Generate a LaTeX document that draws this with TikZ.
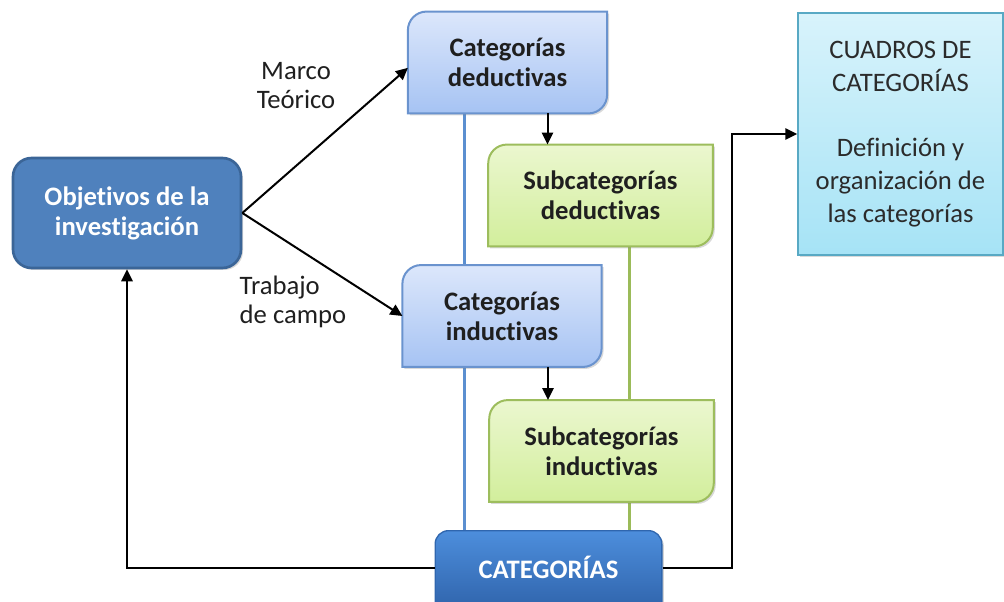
\documentclass[tikz,border=0pt]{standalone}
\usepackage{fontspec}
\setmainfont{Carlito}[RawFeature={-liga;-clig;-dlig;-calt}]
\usetikzlibrary{positioning}
\usetikzlibrary{arrows.meta}
\usetikzlibrary{shadows}
\usetikzlibrary{backgrounds}
\definecolor{objfill}{HTML}{4F81BD}
\definecolor{objdraw}{HTML}{3B6597}
\definecolor{cattop}{HTML}{DCE7FB}
\definecolor{catbot}{HTML}{A6C3F3}
\definecolor{catdraw}{HTML}{6A93CE}
\definecolor{subtop}{HTML}{EBF7CF}
\definecolor{subbot}{HTML}{D2EE9C}
\definecolor{subdraw}{HTML}{9DBD5D}
\definecolor{cuatop}{HTML}{D8F3FB}
\definecolor{cuabot}{HTML}{A6E3F6}
\definecolor{cuadraw}{HTML}{58A9C4}
\definecolor{centtop}{HTML}{4D8EDC}
\definecolor{centbot}{HTML}{2C5FA6}
\definecolor{centdraw}{HTML}{2F66AE}
\definecolor{lineb}{HTML}{5B8FD0}
\definecolor{lineg}{HTML}{9BBB59}
\definecolor{txtdark}{HTML}{1F1F1F}
\definecolor{txtgray}{HTML}{2B2B2B}
\tikzset{
    nodeobj/.style = {rounded corners=14pt, line width=2pt, draw=objdraw, fill=objfill, align=center, font=\bfseries\fontsize{20}{22.5}\selectfont, text=white, minimum width=171pt, minimum height=82.5pt, drop shadow={opacity=0.3,shadow xshift=1.5pt,shadow yshift=-1.5pt}},
    nodecat/.style = {align=center, font=\bfseries\fontsize{20}{22.5}\selectfont, text=txtdark, minimum width=149pt, minimum height=76pt},
    nodesub/.style = {align=center, font=\bfseries\fontsize{20}{22.5}\selectfont, text=txtdark, minimum width=168pt, minimum height=76pt},
    nodecent/.style = {rounded corners=10pt, line width=1pt, draw=centdraw, top color=centtop, bottom color=centbot, align=center, font=\bfseries\fontsize{20}{22.5}\selectfont, text=white, minimum width=170pt, inner ysep=0pt, text height=36pt, text depth=30pt, drop shadow={opacity=0.35,shadow xshift=1.5pt,shadow yshift=-1.5pt}},
    nodecua/.style = {line width=1pt, draw=cuadraw, top color=cuatop, bottom color=cuabot, align=center, font=\fontsize{20}{24.75}\selectfont, text=txtgray, minimum width=153.75pt, minimum height=181.5pt, drop shadow={opacity=0.3,shadow xshift=1.5pt,shadow yshift=-1.5pt}},
    lbl/.style = {align=center, font=\fontsize{20}{21.75}\selectfont, text=txtdark},
    shapecat/.style = {line width=1.5pt, draw=catdraw, top color=cattop, bottom color=catbot, drop shadow={opacity=0.3,shadow xshift=1.5pt,shadow yshift=-1.5pt}},
    shapesub/.style = {line width=1.5pt, draw=subdraw, top color=subtop, bottom color=subbot, drop shadow={opacity=0.3,shadow xshift=1.5pt,shadow yshift=-1.5pt}},
    edgen/.style = {-{Triangle[length=9pt,width=8.5pt]}, line width=1.5pt, black},
    edgeb/.style = {-, line width=2.2pt, lineb},
    edgeg/.style = {-, line width=2.2pt, lineg}
}
% box with two rounded corners (top left, bottom right)
\newcommand{\diagbox}[2]{%
  \path[#1] (#2.south west) -- ([yshift=-14pt]#2.north west)
    arc[start angle=180, end angle=90, radius=14pt] -- (#2.north east)
    -- ([yshift=14pt]#2.south east)
    arc[start angle=0, end angle=-90, radius=14pt] -- cycle;}

\begin{document}
\begin{tikzpicture}[x=0.75pt, y=0.75pt]
  \clip (0,0) rectangle (1004,601);
  \node[nodeobj] (obj) at (127,388) {Objetivos de la\\investigación};
  \node[nodecat] (cd) at (507.5,538.5) {Categorías\\deductivas};
  \node[nodesub] (sd) at (600.5,405.5) {Subcategorías\\deductivas};
  \node[nodecat] (ci) at (502,285) {Categorías\\inductivas};
  \node[nodesub] (si) at (601.5,150) {Subcategorías\\inductivas};
  \node[nodecent, anchor=north] (cat) at (548.5,71) {CATEGORÍAS};
  \node[nodecua] (cua) at (900.5,467) {CUADROS DE\\CATEGORÍAS\\[24pt]Definición y\\organización de\\las categorías};
  \node[lbl] (marco) at (296,515) {Marco\\Teórico};
  \node[lbl, align=left, anchor=west] (trabajo) at (235,299) {Trabajo\\de campo};
  \begin{scope}[on background layer]
    \draw[edgeb] ([xshift=-32.5pt]cd.south) -- ([xshift=-32.5pt]cd.south |- cat.north);
    \draw[edgeg] ([xshift=22pt]sd.south) -- ([xshift=22pt]sd.south |- cat.north);
    \diagbox{shapecat}{cd}
    \diagbox{shapesub}{sd}
    \diagbox{shapecat}{ci}
    \diagbox{shapesub}{si}
  \end{scope}
  \draw[edgen] (obj.east) -- ([yshift=-4pt]cd.west);
  \draw[edgen] (obj.east) -- (ci.west);
  \draw[edgen] ([xshift=30pt]cd.south) -- ([xshift=30pt]cd.south |- sd.north);
  \draw[edgen] ([xshift=34.5pt]ci.south) -- ([xshift=34.5pt]ci.south |- si.north);
  \draw[edgen] ([yshift=5pt]cat.west) -| (obj.south);
  \draw[edgen] ([yshift=5pt]cat.east) -- ++(51.75pt,0) |- (cua.west);
\end{tikzpicture}
\end{document}
